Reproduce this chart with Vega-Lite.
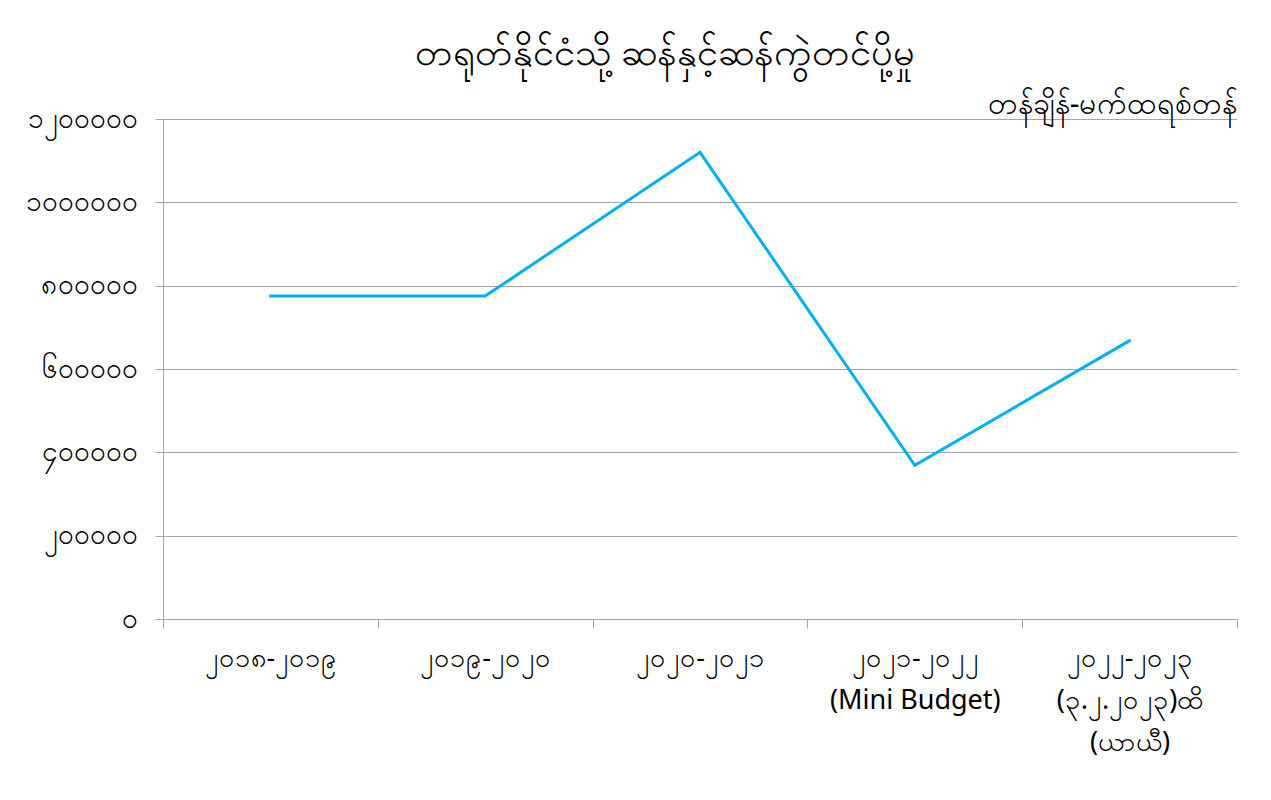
{
  "$schema": "https://vega.github.io/schema/vega-lite/v6.json",
  "width": 1074,
  "height": 500,
  "autosize": {"type": "none"},
  "padding": {"left": 163, "top": 119, "right": 34, "bottom": 181},
  "background": "white",
  "title": {
    "text": "တရုတ်နိုင်ငံသို့ ဆန်နှင့်ဆန်ကွဲတင်ပို့မှု",
    "anchor": "middle",
    "frame": "group",
    "dx": -35,
    "offset": 16,
    "fontSize": 38,
    "fontWeight": "normal",
    "color": "black"
  },
  "data": {
    "values": [
      {"year": "၂၀၁၈-၂၀၁၉", "tons": 775000},
      {"year": "၂၀၁၉-၂၀၂၀", "tons": 775000},
      {"year": "၂၀၂၀-၂၀၂၁", "tons": 1120000},
      {"year": "၂၀၂၁-၂၀၂၂|(Mini Budget)", "tons": 369000},
      {"year": "၂၀၂၂-၂၀၂၃|(၃.၂.၂၀၂၃)ထိ|(ယာယီ)", "tons": 668000}
    ]
  },
  "mark": {"type": "line", "color": "#00b0f0", "strokeWidth": 3, "strokeCap": "round"},
  "encoding": {
    "x": {
      "field": "year",
      "type": "nominal",
      "sort": null,
      "bandPosition": 0.5,
      "scale": {"type": "band", "paddingInner": 0, "paddingOuter": 0},
      "axis": {
        "title": null,
        "labelAngle": 0,
        "labelExpr": "split(datum.label, '|')",
        "labelFontSize": 27,
        "labelColor": "black",
        "labelLineHeight": 42,
        "labelPadding": 17,
        "labelBaseline": "top",
        "tickBand": "extent",
        "tickSize": 9,
        "tickColor": "#a6a6a6",
        "domainColor": "#a6a6a6",
        "grid": false
      }
    },
    "y": {
      "field": "tons",
      "type": "quantitative",
      "scale": {"domain": [0, 1200000], "nice": false},
      "axis": {
        "values": [0, 200000, 400000, 600000, 800000, 1000000, 1200000],
        "labelExpr": "replace(replace(replace(replace(replace(replace(format(datum.value,'d'), regexp('0','g'), '၀'), regexp('1','g'), '၁'), regexp('2','g'), '၂'), regexp('4','g'), '၄'), regexp('6','g'), '၆'), regexp('8','g'), '၈')",
        "labelFontSize": 28,
        "labelColor": "black",
        "labelPadding": 18,
        "tickSize": 8,
        "tickColor": "#a6a6a6",
        "domainColor": "#a6a6a6",
        "gridColor": "#a6a6a6",
        "title": "တန်ချိန်-မက်ထရစ်တန်",
        "titleAngle": 0,
        "titleX": 1074,
        "titleY": 0,
        "titleAlign": "right",
        "titleBaseline": "bottom",
        "titleFontSize": 30,
        "titleFontWeight": "normal",
        "titleColor": "black"
      }
    }
  },
  "config": {
    "view": {"stroke": null},
    "font": "Noto Sans"
  }
}
